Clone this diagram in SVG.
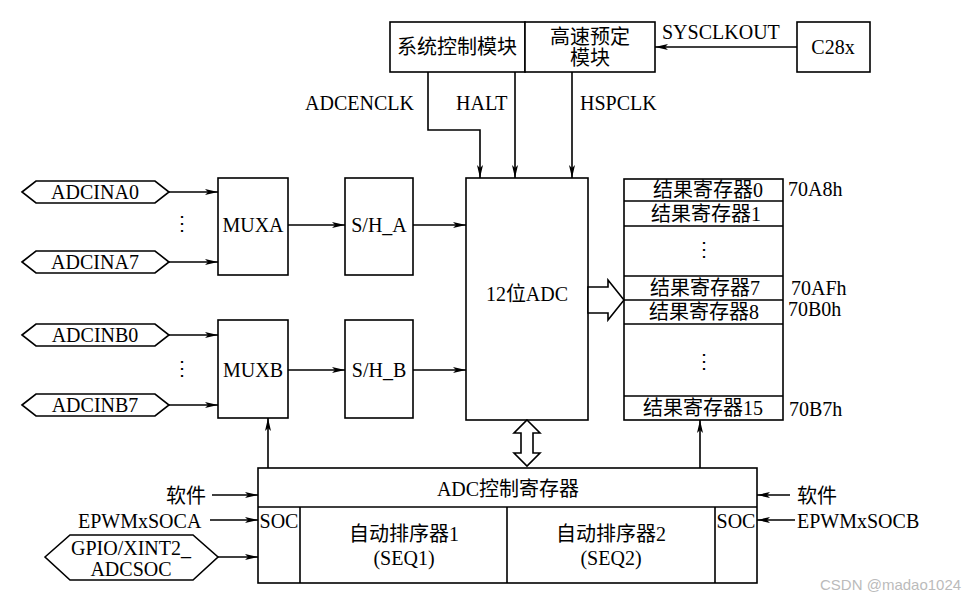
<svg xmlns="http://www.w3.org/2000/svg" width="978" height="602" viewBox="0 0 978 602">
<defs>
<marker id="ar" markerWidth="14" markerHeight="8" refX="13" refY="4" orient="auto" markerUnits="userSpaceOnUse"><path d="M0,1 L13,4 L0,7 L3,4 Z" fill="#000"/></marker>
<style>
.b{fill:#fff;stroke:#000;stroke-width:1.6}
.l{fill:none;stroke:#000;stroke-width:1.6}
.c{stroke:#000;stroke-width:1.6;fill:none;marker-end:url(#ar)}
text{font-family:"Liberation Serif","Noto Sans CJK SC",serif;font-size:20px;fill:#000}
.m{text-anchor:middle}
</style>
</defs>
<rect width="978" height="602" fill="#fff"/>
<g id="sysctl"><rect class="b" x="390" y="22" width="135" height="50"/><text class="m" x="457" y="54">系统控制模块</text></g>
<g id="hspre"><rect class="b" x="525" y="22" width="130" height="50"/><text class="m" x="590" y="44">高速预定</text><text class="m" x="590" y="65">模块</text></g>
<g id="c28x"><rect class="b" x="797" y="22" width="73" height="50"/><text class="m" x="833" y="54">C28x</text></g>
<g id="adc"><rect class="b" x="466" y="178" width="122" height="242"/><text class="m" x="527" y="301">12位ADC</text></g>
<g id="muxa"><rect class="b" x="218" y="178" width="70" height="97"/><text class="m" x="253" y="232">MUXA</text></g>
<g id="sha"><rect class="b" x="345" y="178" width="68" height="97"/><text class="m" x="379" y="232">S/H_A</text></g>
<g id="muxb"><rect class="b" x="218" y="320" width="70" height="98"/><text class="m" x="253" y="377">MUXB</text></g>
<g id="shb"><rect class="b" x="345" y="320" width="68" height="98"/><text class="m" x="379" y="377">S/H_B</text></g>
<g id="in_a0"><path class="b" d="M22,192 L36,181 L155,181 L169,192 L155,203 L36,203 Z"/><text class="m" x="95" y="199">ADCINA0</text></g>
<g id="in_a7"><path class="b" d="M22,262 L36,251 L155,251 L169,262 L155,273 L36,273 Z"/><text class="m" x="95" y="269">ADCINA7</text></g>
<g id="in_b0"><path class="b" d="M22,335 L36,324 L155,324 L169,335 L155,346 L36,346 Z"/><text class="m" x="95" y="342">ADCINB0</text></g>
<g id="in_b7"><path class="b" d="M22,405 L36,394 L155,394 L169,405 L155,416 L36,416 Z"/><text class="m" x="95" y="412">ADCINB7</text></g>
<text class="m" x="182" y="230">⋮</text>
<text class="m" x="182" y="375">⋮</text>
<g id="regs">
<rect class="b" x="624" y="179" width="159" height="241"/>
<path class="l" d="M624,201H783M624,226H783M624,276H783M624,300H783M624,324H783M624,396H783"/>
<text class="m" x="708" y="197">结果寄存器0</text>
<text class="m" x="706" y="221">结果寄存器1</text>
<text class="m" x="704" y="256">⋮</text>
<text class="m" x="705" y="295">结果寄存器7</text>
<text class="m" x="704" y="319">结果寄存器8</text>
<text class="m" x="704" y="368">⋮</text>
<text class="m" x="703" y="415">结果寄存器15</text>
<text x="788" y="196">70A8h</text>
<text x="791" y="295">70AFh</text>
<text x="788" y="316">70B0h</text>
<text x="789" y="416">70B7h</text>
</g>
<g id="ctrl">
<rect class="b" x="258" y="468" width="499" height="115"/>
<path class="l" d="M258,507H757M300,507V583M507,507V583M715,507V583"/>
<text class="m" x="508" y="496">ADC控制寄存器</text>
<text class="m" x="279" y="528">SOC</text>
<text class="m" x="736" y="528">SOC</text>
<text class="m" x="404" y="541">自动排序器1</text>
<text class="m" x="404" y="565">(SEQ1)</text>
<text class="m" x="611" y="541">自动排序器2</text>
<text class="m" x="611" y="565">(SEQ2)</text>
</g>
<g id="gpio"><path class="b" d="M45,557 L70,535 L193,535 L218,557 L193,580 L70,580 Z"/><text class="m" x="131" y="555">GPIO/XINT2_</text><text class="m" x="131" y="576">ADCSOC</text></g>
<text x="166" y="503">软件</text>
<text x="78" y="528">EPWMxSOCA</text>
<text x="797" y="503">软件</text>
<text x="797" y="528">EPWMxSOCB</text>
<text x="305" y="110">ADCENCLK</text>
<text x="456" y="110">HALT</text>
<text x="580" y="110">HSPCLK</text>
<text x="662" y="39">SYSCLKOUT</text>
<g id="connectors">
<path class="c" d="M797,47H655"/>
<path class="c" d="M428,72V130H480V178"/>
<path class="c" d="M515,72V178"/>
<path class="c" d="M572,72V178"/>
<path class="c" d="M169,192H218"/>
<path class="c" d="M169,262H218"/>
<path class="c" d="M169,335H218"/>
<path class="c" d="M169,405H218"/>
<path class="c" d="M288,225H345"/>
<path class="c" d="M413,225H466"/>
<path class="c" d="M288,370H345"/>
<path class="c" d="M413,370H466"/>
<path class="b" d="M588,287H608V280L624,300L608,320V313H588Z"/>
<path class="b" d="M527,420L540,433H533V453H540L527,466L514,453H521V433H514Z"/>
<path class="c" d="M268,468V418"/>
<path class="c" d="M700,468V420"/>
<path class="c" d="M212,495H258"/>
<path class="c" d="M210,520H258"/>
<path class="c" d="M218,557H258"/>
<path class="c" d="M790,495H757"/>
<path class="c" d="M795,520H757"/>
</g>
<text x="820" y="590" style="font-family:'Liberation Sans',sans-serif;font-size:15px;fill:#bbb">CSDN @madao1024</text>
</svg>
